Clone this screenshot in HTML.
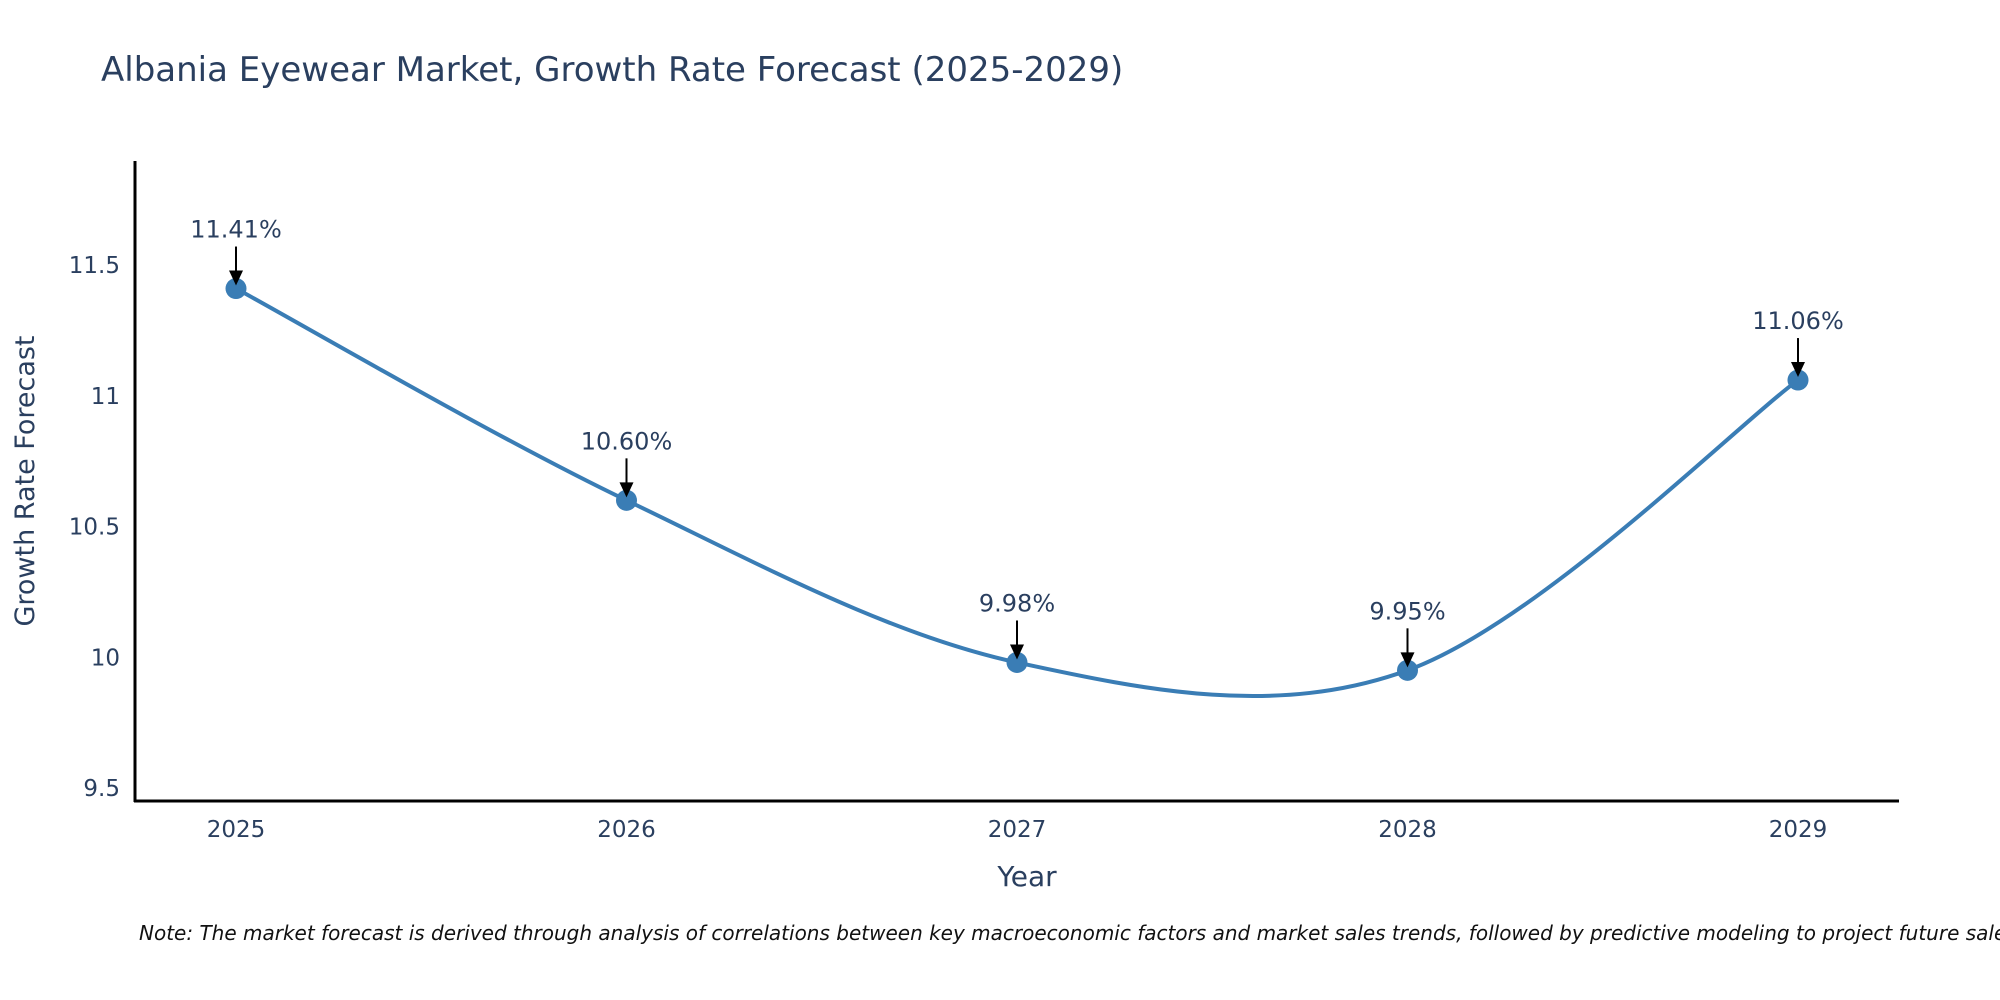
<!DOCTYPE html>
<html><head><meta charset="utf-8"><style>
html,body{margin:0;padding:0;background:#fff;}
svg{display:block;font-family:"DejaVu Sans","Liberation Sans",sans-serif;}
</style></head><body>
<svg id="chart" width="2000" height="1000" viewBox="0 0 2000 1000">
<text x="101" y="81" font-size="34" fill="#2a3f5f">Albania Eyewear Market, Growth Rate Forecast (2025-2029)</text>
<g id="yticks"></g>
<g id="xticks"></g>
<line x1="135" y1="161" x2="135" y2="802" stroke="#000" stroke-width="3"/>
<line x1="134" y1="801" x2="1899" y2="801" stroke="#000" stroke-width="3"/>
<path id="line" fill="none" stroke="#3a7db5" stroke-width="4"/>
<g id="points"></g>
<g id="annots"></g>
<text transform="translate(34,481) rotate(-90)" text-anchor="middle" font-size="27" fill="#2a3f5f">Growth Rate Forecast</text>
<text x="1027" y="886" text-anchor="middle" font-size="28" fill="#2a3f5f">Year</text>
<text x="139" y="940" font-size="20" font-style="italic" fill="#111">Note: The market forecast is derived through analysis of correlations between key macroeconomic factors and market sales trends, followed by predictive modeling to project future sales.</text>
</svg>
<script>
const years = [2025, 2026, 2027, 2028, 2029];
const values = [11.41, 10.60, 9.98, 9.95, 11.06];
const labels = ["11.41%", "10.60%", "9.98%", "9.95%", "11.06%"];
const yTickVals = [9.5, 10, 10.5, 11, 11.5];
const yTickText = ["9.5", "10", "10.5", "11", "11.5"];

const NS = "http://www.w3.org/2000/svg";
function x(v){ return 236 + (v - 2025) * 390.5; }
function y(v){ return 788 - (v - 9.5) * 261.5; }
function mk(tag, attrs, parent){ const e=document.createElementNS(NS,tag); for(const k in attrs) e.setAttribute(k, attrs[k]); parent.appendChild(e); return e; }

const yt = document.getElementById('yticks');
yTickVals.forEach((v,i)=>{
  const t = mk('text',{x:120,y:y(v)+8,'text-anchor':'end','font-size':23,fill:'#2a3f5f'},yt);
  
  
  t.textContent = yTickText[i];
});
const xt = document.getElementById('xticks');
years.forEach(v=>{
  const t = mk('text',{x:x(v),y:837,'text-anchor':'middle','font-size':23,fill:'#2a3f5f'},xt);
  
  
  t.textContent = String(v);
});

const pts = years.map((yr,i)=>[x(yr), y(values[i])]);
let d = 'M'+pts[0][0]+','+pts[0][1];
for(let i=0;i<pts.length-1;i++){
  const p0=pts[Math.max(0,i-1)], p1=pts[i], p2=pts[i+1], p3=pts[Math.min(pts.length-1,i+2)];
  const c1=[p1[0]+(p2[0]-p0[0])/6, p1[1]+(p2[1]-p0[1])/6];
  const c2=[p2[0]-(p3[0]-p1[0])/6, p2[1]-(p3[1]-p1[1])/6];
  d += ' C'+c1[0]+','+c1[1]+' '+c2[0]+','+c2[1]+' '+p2[0]+','+p2[1];
}
document.getElementById('line').setAttribute('d', d);

const pg = document.getElementById('points');
const ag = document.getElementById('annots');
pts.forEach((p,i)=>{
  const c = mk('circle',{cx:p[0],cy:p[1],r:10.5,fill:'#3a7db5'},pg);
  
  
  const l = mk('line',{x1:p[0],y1:p[1]-42,x2:p[0],y2:p[1]-14,stroke:'#000','stroke-width':2},ag);
  
  
  const h = mk('polygon',{points:(p[0]-7)+','+(p[1]-18)+' '+(p[0]+7)+','+(p[1]-18)+' '+p[0]+','+(p[1]-3),fill:'#000'},ag);
  
  
  const t = mk('text',{x:p[0],y:p[1]-51,'text-anchor':'middle','font-size':24,fill:'#2a3f5f'},ag);
  
  
  t.textContent = labels[i];
});
</script>
</body></html>
